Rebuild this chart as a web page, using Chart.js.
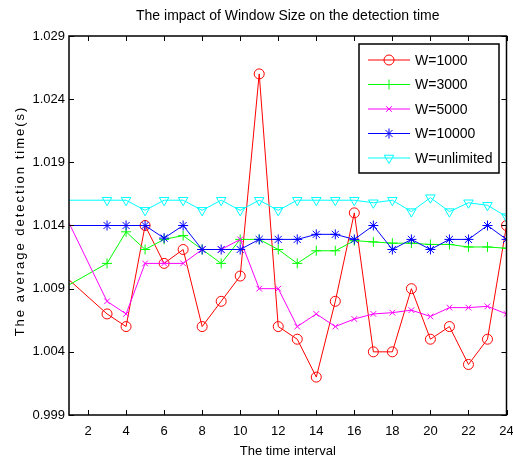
<!DOCTYPE html>
<html>
<head>
<meta charset="utf-8">
<script src="https://cdn.jsdelivr.net/npm/chart.js@4/dist/chart.umd.min.js"></script>
<style>
  html, body { margin: 0; padding: 0; background: #fff; }
  canvas { display: block; }
</style>
</head>
<body>
<canvas id="chart" width="513" height="462"></canvas>
<script>
// time intervals (there is no point at 2 in the original figure)
const intervals = [1, 3, 4, 5, 6, 7, 8, 9, 10, 11, 12, 13, 14, 15, 16, 17, 18, 19, 20, 21, 22, 23, 24];

const w1000 = [1.0097, 1.0070, 1.0060, 1.0140, 1.0110, 1.0121, 1.0060, 1.0080, 1.0100, 1.0260, 1.0060,
	1.0050, 1.0020, 1.0080, 1.0150, 1.0040, 1.0040, 1.0090, 1.0050, 1.0060, 1.0030, 1.0050, 1.0140];
const w3000 = [1.0093, 1.0110, 1.0135, 1.0121, 1.0129, 1.0132, 1.0121, 1.0110, 1.0129, 1.0129, 1.0121,
	1.0110, 1.0120, 1.0120, 1.0128, 1.0127, 1.0126, 1.0126, 1.0125, 1.0125, 1.0123, 1.0123, 1.0122];
const w5000 = [1.0142, 1.0080, 1.0070, 1.0110, 1.0110, 1.0110, 1.0121, 1.0121, 1.0129, 1.0090, 1.0090,
	1.0060, 1.0070, 1.0060, 1.0066, 1.0070, 1.0071, 1.0073, 1.0068, 1.0075, 1.0075, 1.0076, 1.0070];
const w10000 = [1.0140, 1.0140, 1.0140, 1.0140, 1.0130, 1.0140, 1.0121, 1.0121, 1.0121, 1.0129, 1.0129,
	1.0129, 1.0133, 1.0133, 1.0129, 1.0140, 1.0121, 1.0129, 1.0121, 1.0129, 1.0129, 1.0140, 1.0129];
const wUnlimited = [1.0160, 1.0160, 1.0160, 1.0152, 1.0160, 1.0160, 1.0152, 1.0160, 1.0152, 1.0160, 1.0152,
	1.0160, 1.0160, 1.0160, 1.0160, 1.0158, 1.0160, 1.0151, 1.0162, 1.0151, 1.0158, 1.0156, 1.0147];

const xTicks = [2, 4, 6, 8, 10, 12, 14, 16, 18, 20, 22, 24];
const yTicks = [0.999, 1.004, 1.009, 1.014, 1.019, 1.024, 1.029];

const FONT = "'Liberation Sans', Arial, sans-serif";

const seriesDefs = [
	{ label: 'W=1000', values: w1000, color: '#ff0000', style: 'circle', radius: 5, rotation: 0 },
	{ label: 'W=3000', values: w3000, color: '#00ff00', style: 'cross', radius: 5, rotation: 0 },
	{ label: 'W=5000', values: w5000, color: '#ff00ff', style: 'crossRot', radius: 4, rotation: 0 },
	{ label: 'W=10000', values: w10000, color: '#0000ff', style: 'star', radius: 5, rotation: 0 },
	{ label: 'W=unlimited', values: wUnlimited, color: '#00ffff', style: 'triangle', radius: 5.5, rotation: 180 },
];

function buildDatasets() {
	return seriesDefs.map((s, i) => ({
		label: s.label,
		data: intervals.map((x, k) => ({ x, y: s.values[k] })),
		borderColor: s.color,
		backgroundColor: 'rgba(0,0,0,0)',
		pointBorderColor: s.color,
		pointBackgroundColor: 'rgba(0,0,0,0)',
		pointStyle: s.style,
		pointRotation: s.rotation,
		pointRadius: (ctx) => (ctx.dataIndex === 0 ? 0 : s.radius),
		pointBorderWidth: 1,
		borderWidth: 1,
		tension: 0,
		fill: false,
		order: seriesDefs.length - i,
	}));
}

// box, inward ticks, titles and the legend, drawn the MATLAB way
const framePlugin = {
	id: 'frame',
	afterDraw(chart) {
		const { ctx, chartArea: a, scales } = chart;
		const xs = scales.x, ys = scales.y;
		ctx.save();

		ctx.strokeStyle = '#000';
		ctx.lineWidth = 1;
		ctx.beginPath();
		xTicks.forEach((v) => {
			const px = Math.round(xs.getPixelForValue(v)) + 0.5;
			ctx.moveTo(px, a.bottom); ctx.lineTo(px, a.bottom - 5);
			ctx.moveTo(px, a.top); ctx.lineTo(px, a.top + 5);
		});
		yTicks.forEach((v) => {
			const py = Math.round(ys.getPixelForValue(v)) + 0.5;
			ctx.moveTo(a.left, py); ctx.lineTo(a.left + 5, py);
			ctx.moveTo(a.right, py); ctx.lineTo(a.right - 5, py);
		});
		ctx.stroke();
		ctx.lineWidth = 1.5;
		ctx.strokeRect(a.left, a.top, a.right - a.left, a.bottom - a.top);

		// titles
		ctx.fillStyle = '#000';
		ctx.textAlign = 'center';
		ctx.textBaseline = 'middle';
		ctx.font = '14px ' + FONT;
		ctx.fillText('The impact of Window Size on the detection time', (a.left + a.right) / 2, 16);
		ctx.font = '13px ' + FONT;
		ctx.fillText('The time interval', (a.left + a.right) / 2, 451);

		ctx.save();
		ctx.translate(20, 221);
		ctx.rotate(-Math.PI / 2);
		ctx.letterSpacing = '2px';
		ctx.fillText('The average detection time(s)', 0, 0);
		ctx.restore();

		// legend
		const bx = 359, by = 44, bw = 140, bh = 129;
		ctx.fillStyle = '#fff';
		ctx.fillRect(bx, by, bw, bh);
		ctx.strokeStyle = '#000';
		ctx.lineWidth = 1.5;
		ctx.strokeRect(bx, by, bw, bh);
		ctx.font = '14px ' + FONT;
		ctx.textAlign = 'left';
		seriesDefs.forEach((s, i) => {
			const y = by + 16 + i * 24.5;
			ctx.strokeStyle = s.color;
			ctx.lineWidth = 1;
			ctx.beginPath();
			ctx.moveTo(368, y); ctx.lineTo(410, y);
			ctx.stroke();
			ctx.fillStyle = 'rgba(0,0,0,0)';
			Chart.helpers.drawPoint(ctx, { pointStyle: s.style, rotation: s.rotation, radius: s.radius, borderWidth: 1 }, 389, y);
			ctx.fillStyle = '#000';
			ctx.fillText(s.label, 415, y + 1);
		});

		ctx.restore();
	},
};

function main() {
	const canvas = document.getElementById('chart');
	new Chart(canvas, {
		type: 'line',
		data: { datasets: buildDatasets() },
		options: {
			responsive: false,
			animation: false,
			layout: { padding: { right: 4, left: 0, top: 36, bottom: 0 } },
			plugins: {
				legend: { display: false },
				tooltip: { enabled: false },
				title: { display: false },
			},
			scales: {
				x: {
					type: 'linear',
					min: 1,
					max: 24,
					grid: { display: false, drawTicks: false },
					border: { display: false },
					ticks: { color: '#000', font: { family: FONT, size: 13 }, padding: 9, maxRotation: 0, autoSkip: false },
					afterBuildTicks: (s) => { s.ticks = xTicks.map((v) => ({ value: v })); },
					afterFit: (s) => { s.height = 47; s.paddingLeft = 0; s.paddingRight = 0; },
				},
				y: {
					type: 'linear',
					min: 0.999,
					max: 1.029,
					grid: { display: false, drawTicks: false },
					border: { display: false },
					ticks: {
						color: '#000',
						font: { family: FONT, size: 13 },
						padding: 4,
						callback: (v) => Number(v).toFixed(3),
					},
					afterBuildTicks: (s) => { s.ticks = yTicks.map((v) => ({ value: v })); },
					afterFit: (s) => { s.width = 69; s.paddingTop = 0; s.paddingBottom = 0; },
				},
			},
		},
		plugins: [framePlugin],
	});
}

main();
</script>
</body>
</html>
